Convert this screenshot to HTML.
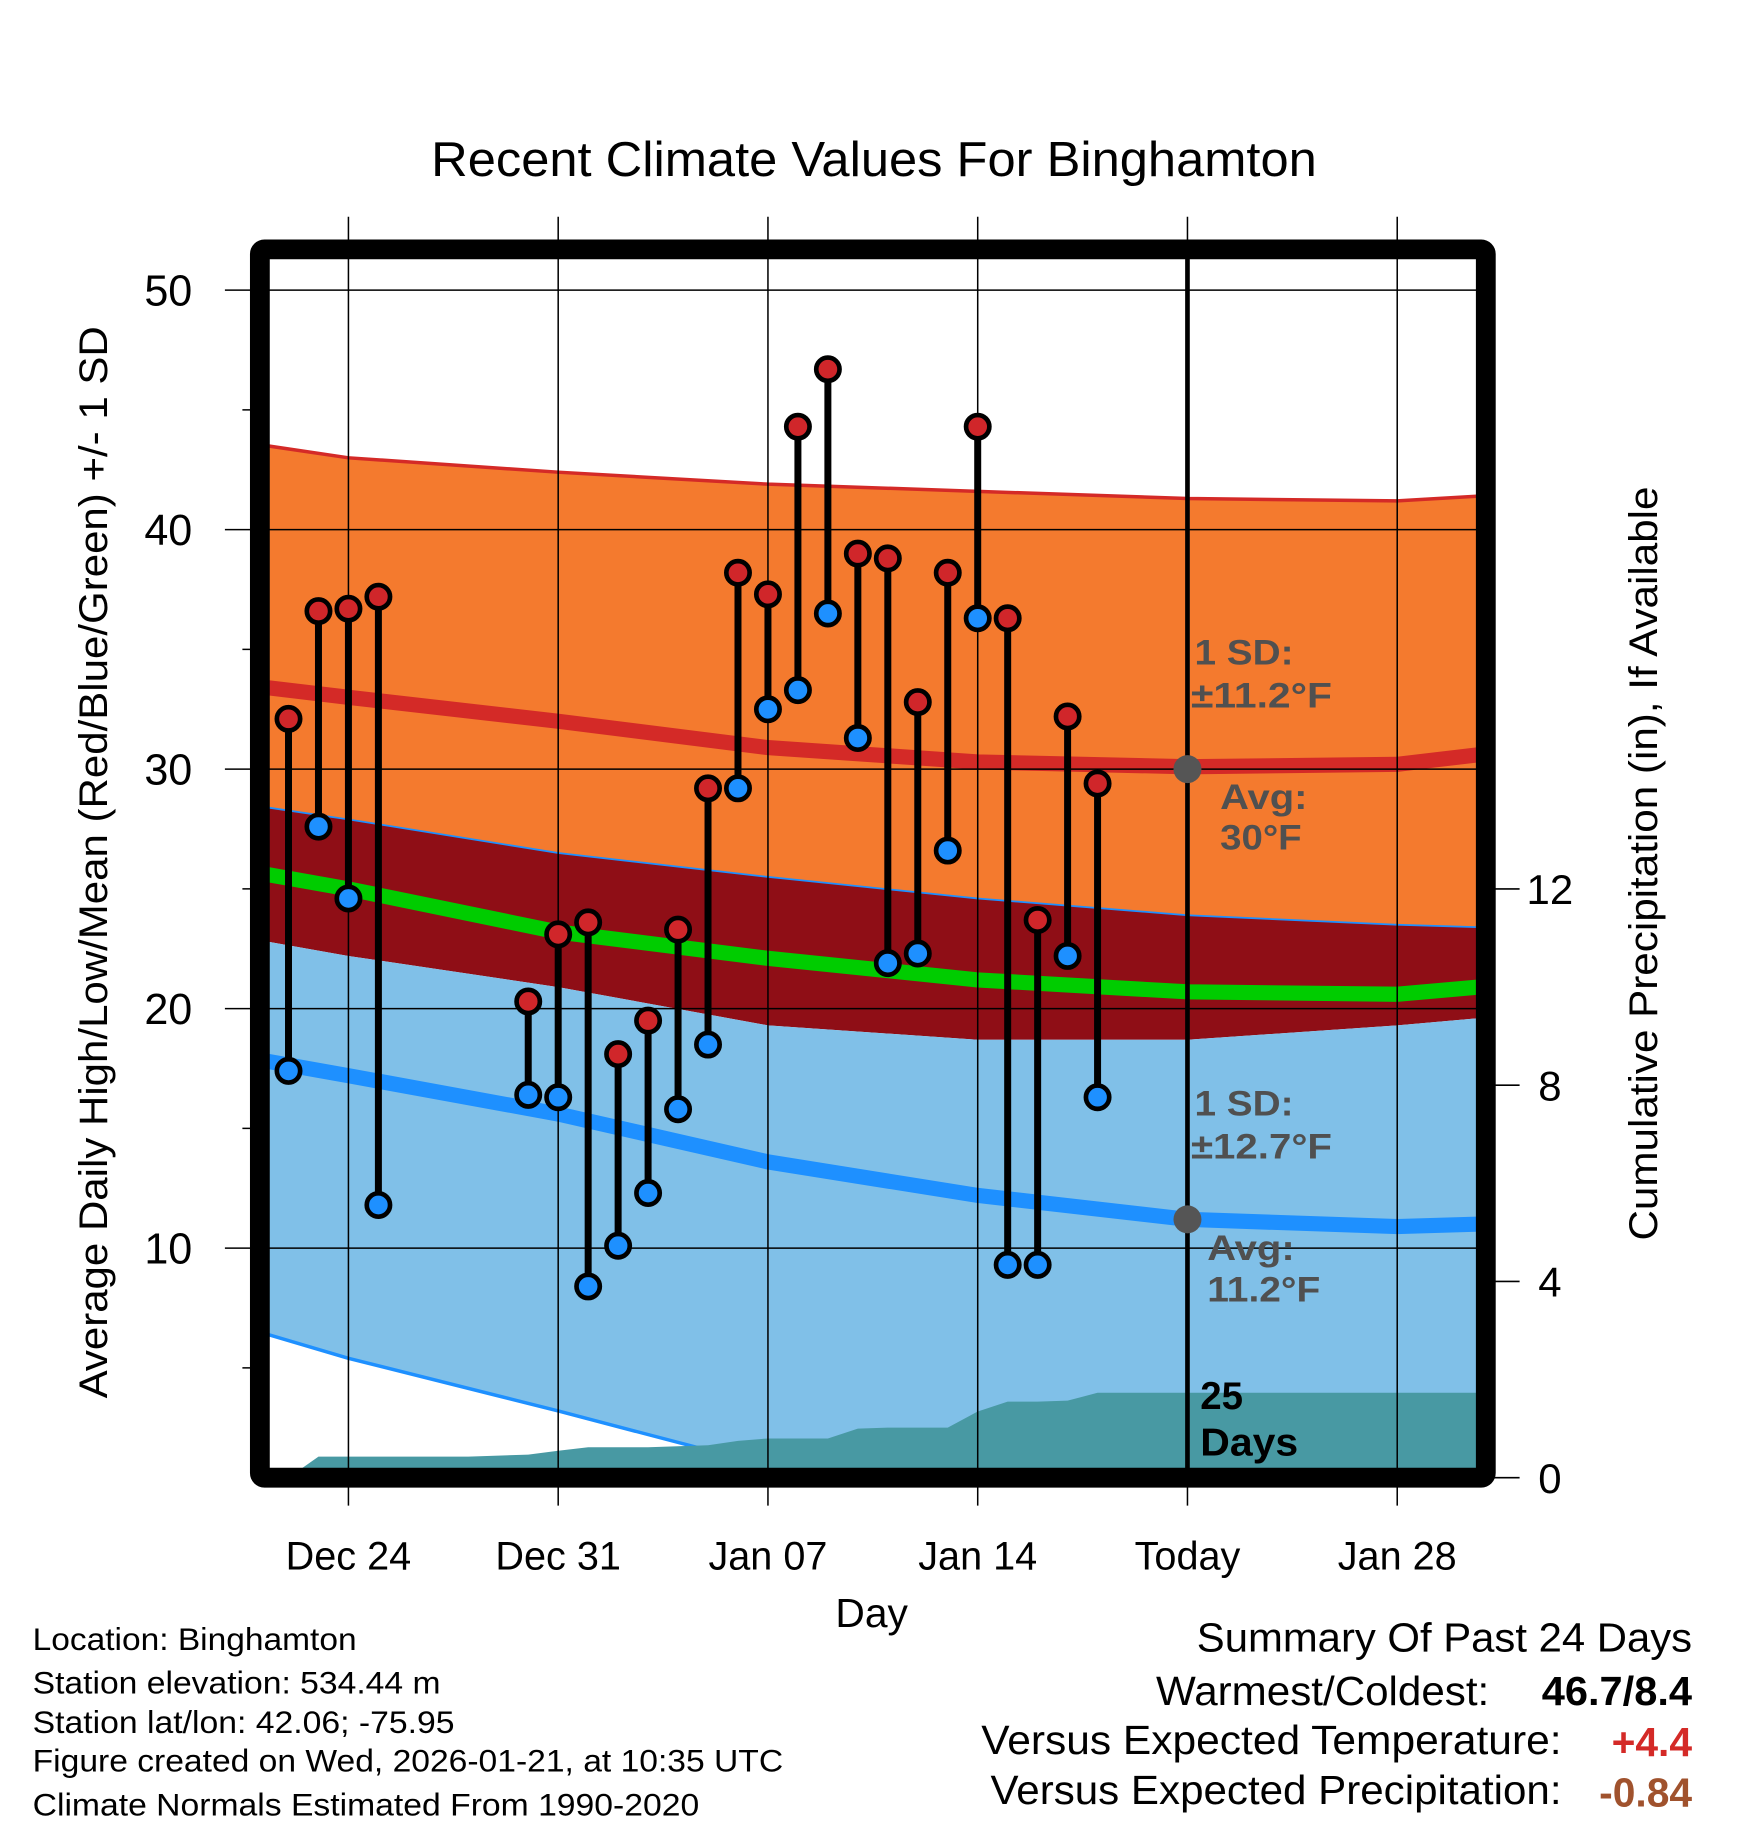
<!DOCTYPE html>
<html><head><meta charset="utf-8"><style>
html,body{margin:0;padding:0;background:#fff}
svg{display:block;font-family:"Liberation Sans",sans-serif}
</style></head><body>
<svg id="chart" width="1748" height="1828" viewBox="0 0 1500 1568.6" preserveAspectRatio="none" xmlns="http://www.w3.org/2000/svg">
<text x="370" y="151" font-size="42" textLength="760" lengthAdjust="spacingAndGlyphs">Recent Climate Values For Binghamton</text>
<g id="plot"></g>
</svg>
<script>
const days=[-2,-1,0,1,6,7,8,9,10,11,12,13,14,15,16,17,18,19,20,21,22,23,24,25];
const highs=[32.1,36.6,36.7,37.2,20.3,23.1,23.6,18.1,19.5,23.3,29.2,38.2,37.3,44.3,46.7,39.0,38.8,32.8,38.2,44.3,36.3,23.7,32.2,29.4];
const lows=[17.4,27.6,24.6,11.8,16.4,16.3,8.4,10.1,12.3,15.8,18.5,29.2,32.5,33.3,36.5,31.3,21.9,22.3,26.6,36.3,9.3,9.3,22.2,16.3];
const normDays=[-2.7,0,7,14,21,28,35,37.7];
const highPlusSD=[43.5,43.0,42.4,41.9,41.6,41.3,41.2,41.4];
const avgHigh=[33.4,33.0,32.0,30.9,30.3,30.1,30.2,30.6];
const highMinusSD=[28.4,27.9,26.5,25.5,24.6,23.9,23.5,23.4];
const meanT=[25.6,25.0,23.2,22.1,21.2,20.7,20.6,20.9];
const lowPlusSD=[22.8,22.2,20.9,19.3,18.7,18.7,19.3,19.6];
const avgLow=[17.8,17.2,15.6,13.6,12.2,11.2,10.9,11.0];
const lowMinusSD=[6.4,5.4,3.2,0.9,-0.5,-1.0,-1.2,-1.2];
const precipDays=[-2,-1,0,1,2,3,4,5,6,7,8,9,10,11,12,13,14,15,16,17,18,19,20,21,22,23,24,25,37.7];
const precipCum=[0,0.43,0.43,0.43,0.43,0.43,0.43,0.45,0.47,0.55,0.62,0.62,0.62,0.64,0.66,0.75,0.8,0.8,0.8,1.0,1.02,1.02,1.02,1.35,1.55,1.55,1.57,1.73,1.73];
const xTickDays=[0,7,14,21,28,35];
const xTickLabels=["Dec 24","Dec 31","Jan 07","Jan 14","Today","Jan 28"];
const yTicks=[10,20,30,40,50];
const pTicks=[0,4,8,12];
const todayDay=28;
const todayAvgHigh=30;
const todayAvgLow=11.2;

const NS="http://www.w3.org/2000/svg";
const X=d=>299+d*25.714;
const Y=v=>249+(50-v)*20.55;
const P=p=>1268-p*42.1;
const L=231,R=1267,T=222,B=1260;
const g=document.getElementById('plot');
function mk(tag,attrs,parent){const e=document.createElementNS(NS,tag);for(const k in attrs)e.setAttribute(k,attrs[k]);(parent||g).appendChild(e);return e;}
function pts(xs,ys,fy){return xs.map((d,i)=>X(d)+','+fy(ys[i])).join(' ');}
function band(top,bot){return pts(normDays,top,Y)+' '+pts(normDays.slice().reverse(),bot.slice().reverse(),Y);}

const defs=mk('defs',{});
const cp=mk('clipPath',{id:'clip'},defs);
mk('rect',{x:L,y:T,width:R-L,height:B-T},cp);
const pg=mk('g',{'clip-path':'url(#clip)'});

let e;
e=mk('polygon',{points:band(highPlusSD,highMinusSD),fill:'#f47a2e'},pg);


e=mk('polygon',{points:band(highMinusSD,lowPlusSD),fill:'#8f0e16'},pg);


e=mk('polygon',{points:band(lowPlusSD,lowMinusSD),fill:'#80c0e8'},pg);


e=mk('polyline',{points:pts(normDays,highPlusSD,Y),fill:'none',stroke:'#d42a27','stroke-width':3},pg);


e=mk('polyline',{points:pts(normDays,highMinusSD,Y),fill:'none',stroke:'#1e90ff','stroke-width':1.5},pg);


e=mk('polyline',{points:pts(normDays,lowMinusSD,Y),fill:'none',stroke:'#1e90ff','stroke-width':3},pg);


e=mk('polyline',{points:pts(normDays,avgHigh,Y),fill:'none',stroke:'#d42a27','stroke-width':13},pg);


e=mk('polyline',{points:pts(normDays,meanT,Y),fill:'none',stroke:'#00cc00','stroke-width':13},pg);


e=mk('polyline',{points:pts(normDays,avgLow,Y),fill:'none',stroke:'#1e90ff','stroke-width':13},pg);


e=mk('polygon',{points:X(-2.4)+','+P(0)+' '+pts(precipDays,precipCum,P)+' '+X(37.7)+','+P(0),fill:'#4899a3'},pg);



yTicks.forEach(v=>{
  e=mk('line',{x1:193,x2:R,y1:Y(v),y2:Y(v),stroke:'#000','stroke-width':1.3});
  
  
  e=mk('text',{x:165,y:Y(v)+13,'font-size':37,'text-anchor':'end'});
  e.textContent=v;
  
  
  e=mk('line',{x1:208,x2:223,y1:Y(v-5),y2:Y(v-5),stroke:'#000','stroke-width':1.3});
  
  
});
xTickDays.forEach((d,i)=>{
  e=mk('line',{x1:X(d),x2:X(d),y1:186,y2:1292,stroke:'#000','stroke-width':1.3});
  
  
  e=mk('text',{x:X(d),y:1347,'font-size':34,'text-anchor':'middle'});
  e.textContent=xTickLabels[i];
  
  
});
pTicks.forEach(p=>{
  e=mk('line',{x1:1275,x2:1304,y1:P(p),y2:P(p),stroke:'#000','stroke-width':1.3});
  
  
  e=mk('text',{x:1330,y:P(p)+13,'font-size':36,'text-anchor':'middle'});
  e.textContent=p;
  
  
});
e=mk('line',{x1:X(todayDay),x2:X(todayDay),y1:T,y2:B,stroke:'#000','stroke-width':4});



days.forEach((d,i)=>{
  e=mk('line',{x1:X(d),x2:X(d),y1:Y(highs[i]),y2:Y(lows[i]),stroke:'#000','stroke-width':6});
  
  
  e=mk('circle',{cx:X(d),cy:Y(highs[i]),r:10,fill:'#d0262a',stroke:'#000','stroke-width':4});
  
  
  e=mk('circle',{cx:X(d),cy:Y(lows[i]),r:10,fill:'#1e90ff',stroke:'#000','stroke-width':4});
  
  
});
e=mk('circle',{cx:X(todayDay),cy:Y(todayAvgHigh),r:12,fill:'#555'});


e=mk('circle',{cx:X(todayDay),cy:Y(todayAvgLow),r:12,fill:'#555'});



e=mk('rect',{x:223,y:214,width:1052,height:1054,fill:'none',stroke:'#000','stroke-width':17,rx:4});



function txt(name,x,y,s,attrs,tl){const a=Object.assign({x:x,y:y},attrs);if(tl){a.textLength=tl;a.lengthAdjust='spacingAndGlyphs';}
const t=mk('text',a);t.textContent=s;


return t;}
const ann={'font-size':30,'font-weight':'bold',fill:'#505050'};
txt('high-sd-label',1025,570,'1 SD:',ann,85);
txt('high-sd-value',1022,607,'±11.2°F',ann,121);
txt('avg-high-label',1047,694,'Avg:',ann,75);
txt('avg-high-value',1047,729,'30°F',ann,70);
txt('low-sd-label',1025,957,'1 SD:',ann,85);
txt('low-sd-value',1022,994,'±12.7°F',ann,121);
txt('avg-low-label',1036,1081,'Avg:',ann,75);
txt('avg-low-value',1036,1117,'11.2°F',ann,97);
txt('days-count',1030,1209,'25',{'font-size':33,'font-weight':'bold'});
txt('days-label',1030,1249,'Days',{'font-size':33,'font-weight':'bold'},84);
txt('x-axis-title',748,1396,'Day',{'font-size':35,'text-anchor':'middle'});
txt('y-axis-title',0,0,'Average Daily High/Low/Mean (Red/Blue/Green) +/- 1 SD',{'font-size':34,'text-anchor':'middle',transform:'translate(92,740) rotate(-90)'},920);
txt('precip-axis-title',0,0,'Cumulative Precipitation (in), If Available',{'font-size':34,'text-anchor':'middle',transform:'translate(1422,741) rotate(-90)'},647);
const info=['Location: Binghamton','Station elevation: 534.44 m','Station lat/lon: 42.06; -75.95','Figure created on Wed, 2026-01-21, at 10:35 UTC','Climate Normals Estimated From 1990-2020'];
const infoW=[278,350,362,644,572];
const infoY=[1416,1453,1487,1520,1558];
info.forEach((s,i)=>txt('station-info-line',28,infoY[i],s,{'font-size':27},infoW[i]));
txt('summary-title',1027,1417,'Summary Of Past 24 Days',{'font-size':35},425);
txt('warmest-coldest-label',992,1463,'Warmest/Coldest:',{'font-size':35},286);
txt('warmest-coldest-value',1323,1463,'46.7/8.4',{'font-size':35,'font-weight':'bold'},129);
txt('temp-anomaly-label',842,1505,'Versus Expected Temperature:',{'font-size':35},498);
txt('temp-anomaly-value',1452,1507,'+4.4',{'font-size':35,'font-weight':'bold','text-anchor':'end',fill:'#d42a27'});
txt('precip-anomaly-label',850,1548,'Versus Expected Precipitation:',{'font-size':35},490);
txt('precip-anomaly-value',1452,1550,'-0.84',{'font-size':35,'font-weight':'bold','text-anchor':'end',fill:'#a0522d'});
</script>
</body></html>
